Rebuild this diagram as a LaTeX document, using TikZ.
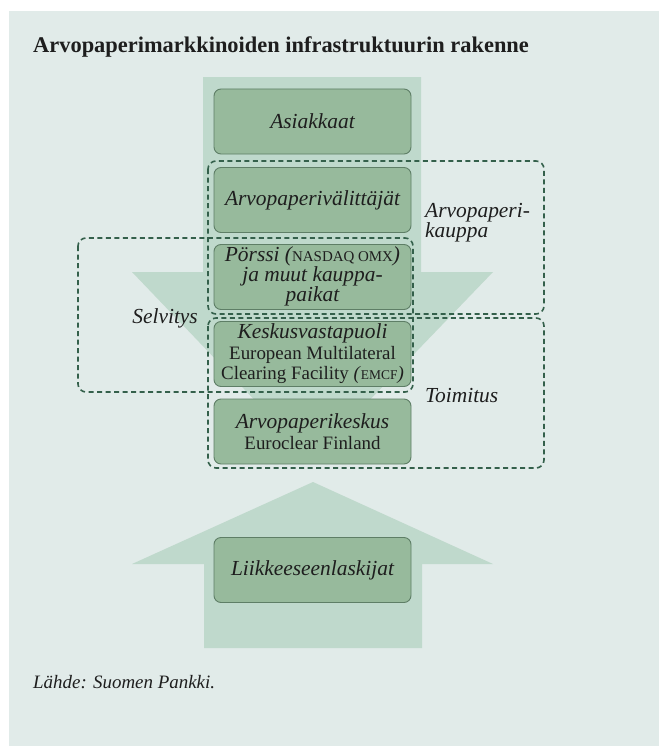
\documentclass[tikz,border=0pt]{standalone}
\usepackage{fontspec}
\setmainfont{Liberation Serif}
\definecolor{bgc}{HTML}{E1EBE9}
\definecolor{arrowc}{HTML}{BFD9CC}
\definecolor{boxc}{HTML}{97BA9C}
\definecolor{boxline}{HTML}{5E7E66}
\definecolor{dashc}{HTML}{34604B}
\definecolor{txt}{HTML}{1E1E1E}
\newcommand{\fsc}[1]{{\fontsize{15}{20}\selectfont\upshape #1}}
\newcommand{\fscs}[1]{{\fontsize{13.5}{20}\selectfont\upshape #1}}
\begin{document}
\begin{tikzpicture}[x=1bp,y=-1bp,
  stagebox/.style={draw=boxline, line width=0.9bp, fill=boxc, rounded corners=7bp,
    minimum width=197bp, minimum height=65bp, inner sep=0pt, align=center,
    text=txt, font=\fontsize{21.5}{20.5}\selectfont\itshape},
  groupbox/.style={draw=dashc, line width=1.6bp, dash pattern=on 5bp off 3.5bp, rounded corners=8bp},
  grouplabel/.style={text=txt, font=\fontsize{21.5}{20}\selectfont\itshape, inner sep=0pt, align=left},
  bigarrow/.style={fill=arrowc, draw=none}
]
\useasboundingbox (0,0) rectangle (659,746);
\fill[bgc] (9,11) rectangle (659,746);

% title
\node[anchor=base west, inner sep=0pt, text=txt, font=\fontsize{22.5}{27}\selectfont\bfseries] (title) at (33,53) {Arvopaperimarkkinoiden infrastruktuurin rakenne};

% arrows
\fill[bigarrow] (203,77) -- (421,77) -- (421,272) -- (493,272) -- (312,460) -- (132,272) -- (203,272) -- cycle;
\fill[bigarrow] (313,482) -- (493,564) -- (422,564) -- (422,648) -- (204,648) -- (204,564) -- (132,564) -- cycle;

% stage boxes
\node[stagebox] (asiakkaat) at (312.5,121.5) {Asiakkaat};
\node[stagebox] (valittajat) at (312.5,200) {Arvopaperivälittäjät};
\node[stagebox, text depth=6bp] (porssi) at (312.5,277) {Pörssi (\fsc{NASDAQ OMX})\\ja muut kauppa-\\paikat};
\node[stagebox] (keskusvasta) at (312.5,354) {Keskusvastapuoli\\{\fontsize{19}{21}\selectfont\upshape European Multilateral}\\{\fontsize{19}{21}\selectfont\upshape Clearing Facility \textit{(}\fscs{EMCF}\textit{)}}};
\node[stagebox] (arvokeskus) at (312.5,431.5) {Arvopaperikeskus\\{\fontsize{19}{20.5}\selectfont\upshape Euroclear Finland}};
\node[stagebox] (liikkeeseen) at (312.5,570) {Liikkeeseenlaskijat};

% grouping boxes
\draw[groupbox] (208,161) rectangle (544,314);
\draw[groupbox] (78,238) rectangle (413,392);
\draw[groupbox] (208,318) rectangle (544,468);

% group labels
\node[grouplabel, anchor=base west] (kauppa) at (425,237) {Arvopaperi-\\kauppa};
\node[grouplabel, anchor=base east] (selvitys) at (198,323) {Selvitys};
\node[grouplabel, anchor=base west] (toimitus) at (425,402) {Toimitus};

% source
\node[anchor=base west, inner sep=0pt, text=txt, font=\fontsize{19}{22}\selectfont\itshape] (source) at (33,688) {Lähde: Suomen Pankki.};
\end{tikzpicture}
\end{document}
